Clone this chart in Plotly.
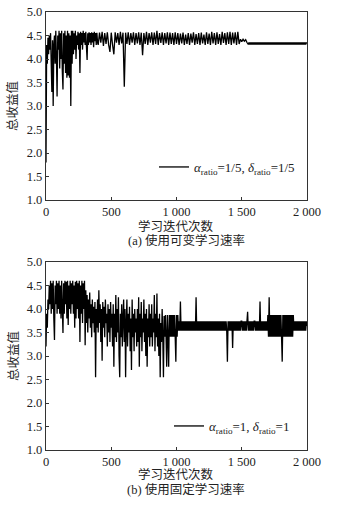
import plotly.graph_objects as go

# iteration index of each sampled value
iterations_a = list(range(0, 400, 5)) + list(range(400, 1550, 10)) + list(range(1550, 2001, 5))
iterations_b = list(range(0, 2001, 5))

# (a) variable learning rate: total return value
values_a = [
    # 0-395, every 5 iterations
    1.8, 4.3, 3.9, 4.45, 4.1, 4.5, 4.2, 4.55, 3.9, 3.3,
    4.4, 3.0, 4.3, 4.5, 3.9, 4.6, 4.0, 3.2, 4.5, 4.2,
    4.6, 3.8, 4.55, 4.0, 4.6, 3.75, 3.35, 4.55, 3.9, 4.6,
    3.7, 4.5, 3.6, 4.6, 3.65, 4.55, 3.6, 4.5, 3.0, 4.6,
    3.9, 4.6, 4.1, 4.55, 4.2, 4.6, 4.0, 4.5, 4.3, 4.58,
    4.2, 4.55, 3.7, 4.58, 4.3, 4.55, 4.2, 4.6, 4.35, 4.55,
    4.3, 4.58, 4.25, 3.98, 4.55, 4.3, 4.57, 4.35, 4.55, 4.3,
    4.57, 4.35, 4.55, 4.25, 4.58, 4.38, 4.55, 4.3, 4.56, 4.35,
    # 400-1540, every 10 iterations
    4.3, 4.56, 4.35, 4.58, 4.28, 4.55, 4.32, 4.57, 4.3, 4.15,
    4.56, 4.3, 4.1, 4.57, 4.35, 4.55, 4.3, 4.58, 4.33, 4.56,
    3.41, 4.56, 4.32, 4.57, 4.3, 4.55, 4.35, 4.57, 4.3, 4.55,
    4.33, 4.57, 4.3, 4.56, 4.08, 4.55, 4.32, 4.58, 4.3, 4.55,
    4.35, 4.57, 4.3, 4.56, 4.32, 4.6, 4.3, 4.55, 4.34, 4.57,
    4.3, 4.55, 4.33, 4.57, 4.3, 4.56, 4.32, 4.55, 4.3, 4.57,
    4.32, 4.55, 4.3, 4.54, 4.33, 4.56, 4.3, 4.52, 4.32, 4.55,
    4.3, 4.54, 4.35, 4.57, 4.3, 4.53, 4.32, 4.55, 4.3, 4.56,
    4.33, 4.52, 4.3, 4.57, 4.32, 4.54, 4.3, 4.58, 4.33, 4.55,
    4.3, 4.57, 4.32, 4.53, 4.3, 4.58, 4.34, 4.55, 4.3, 4.57,
    4.32, 4.58, 4.3, 4.56, 4.33, 4.57, 4.3, 4.58, 4.32, 4.42,
    4.37, 4.42, 4.38, 4.41, 4.35,
    # 1550-2000, every 5 iterations
    4.31, 4.35, 4.31, 4.35, 4.31, 4.35, 4.31, 4.35, 4.31, 4.35,
    4.31, 4.35, 4.31, 4.35, 4.31, 4.35, 4.31, 4.35, 4.31, 4.35,
    4.31, 4.35, 4.31, 4.35, 4.31, 4.35, 4.31, 4.35, 4.31, 4.35,
    4.31, 4.35, 4.31, 4.35, 4.31, 4.35, 4.31, 4.35, 4.31, 4.35,
    4.31, 4.35, 4.31, 4.35, 4.31, 4.35, 4.31, 4.35, 4.31, 4.35,
    4.31, 4.35, 4.31, 4.35, 4.31, 4.35, 4.31, 4.35, 4.31, 4.35,
    4.31, 4.35, 4.31, 4.35, 4.31, 4.35, 4.31, 4.35, 4.31, 4.35,
    4.31, 4.35, 4.31, 4.35, 4.31, 4.35, 4.31, 4.35, 4.31, 4.35,
    4.31, 4.35, 4.31, 4.35, 4.31, 4.35, 4.31, 4.35, 4.31, 4.35,
    4.33,
]

# (b) fixed learning rate: total return value (every 5 iterations)
values_b = [
    3.2, 3.9, 3.6, 4.2, 4.0, 4.5, 4.1, 4.6, 3.9, 4.55,
    4.0, 4.6, 3.8, 3.34, 4.5, 4.1, 4.6, 3.9, 4.55, 4.0,
    4.6, 3.9, 4.5, 3.8, 4.6, 4.0, 3.49, 4.55, 3.9, 4.6,
    4.1, 4.58, 3.8, 4.6, 3.66, 4.5, 4.0, 4.6, 3.9, 4.55,
    4.1, 4.6, 3.9, 4.5, 3.6, 4.58, 3.8, 4.6, 4.0, 4.55,
    3.8, 4.6, 3.3, 4.5, 3.9, 4.6, 3.7, 4.55, 4.0, 4.6,
    3.23, 4.4, 3.7, 4.3, 3.5, 4.2, 3.8, 4.35, 3.6, 4.1,
    3.4, 4.2, 3.7, 4.05, 3.5, 4.15, 2.55, 4.0, 3.6, 4.2,
    3.5, 4.4, 3.7, 4.1, 3.3, 4.0, 2.9, 4.15, 3.6, 4.05,
    3.4, 4.2, 3.7, 3.9, 3.2, 4.1, 3.5, 4.0, 3.3, 4.15,
    3.6, 3.9, 3.2, 4.1, 2.77, 3.9, 3.4, 4.3, 3.3, 4.0,
    3.5, 4.25, 3.0, 2.55, 3.9, 3.4, 4.1, 3.2, 3.8, 4.2,
    3.3, 4.0, 2.55, 3.7, 4.2, 3.2, 3.9, 3.5, 4.05, 3.1,
    3.8, 2.7, 4.2, 3.4, 3.9, 3.1, 4.0, 3.5, 3.8, 3.2,
    4.0, 3.3, 4.25, 2.77, 3.9, 3.4, 4.15, 3.1, 3.8, 3.5,
    4.2, 3.3, 3.9, 3.0, 4.0, 2.77, 3.8, 3.4, 4.1, 3.2,
    3.9, 3.4, 4.1, 3.2, 3.8, 3.5, 4.3, 3.1, 3.9, 3.4,
    4.33, 3.2, 3.8, 3.0, 3.9, 2.55, 3.7, 3.3, 4.0, 3.4,
    2.55, 3.85, 3.41, 3.87, 3.41, 2.77, 3.87, 3.41, 2.77, 3.87,
    3.41, 3.87, 3.41, 3.87, 3.41, 3.87, 3.41, 3.87, 3.41, 2.88,
    3.87, 3.41, 3.87, 3.54, 3.74, 3.54, 4.16, 3.54, 3.74, 3.54,
    3.74, 3.54, 3.74, 3.54, 3.74, 3.54, 3.74, 3.54, 3.74, 3.54,
    3.74, 3.54, 3.74, 3.54, 3.74, 3.54, 3.74, 3.54, 3.74, 3.54,
    4.25, 3.54, 3.74, 3.54, 3.74, 3.54, 3.74, 3.54, 3.74, 3.54,
    3.74, 3.54, 3.74, 3.54, 3.74, 3.54, 3.74, 3.54, 3.74, 3.54,
    3.74, 3.54, 3.74, 3.54, 3.74, 3.54, 3.74, 3.54, 3.74, 3.54,
    3.74, 3.54, 3.74, 3.54, 3.74, 3.54, 3.74, 3.54, 3.74, 3.54,
    3.74, 3.54, 3.74, 3.54, 3.74, 3.54, 3.74, 3.54, 2.88, 3.74,
    3.54, 3.74, 3.54, 3.74, 3.54, 3.74, 3.17, 3.74, 3.54, 3.74,
    3.54, 3.74, 3.54, 3.74, 3.54, 3.74, 3.54, 3.74, 3.54, 3.74,
    3.74, 3.54, 3.74, 3.54, 3.74, 3.54, 3.74, 3.54, 3.74, 3.94,
    3.54, 3.74, 3.54, 3.74, 3.54, 3.74, 3.54, 3.74, 3.54, 3.74,
    3.74, 3.54, 3.74, 3.54, 3.74, 3.54, 3.74, 3.54, 4.16, 3.54,
    3.74, 3.54, 3.74, 3.54, 3.74, 3.54, 3.74, 3.54, 3.74, 3.54,
    3.87, 3.41, 4.25, 3.41, 3.87, 3.41, 3.87, 3.41, 3.87, 3.41,
    3.87, 3.41, 3.87, 3.41, 3.87, 3.41, 3.87, 3.41, 3.87, 3.41,
    3.87, 3.41, 2.88, 3.87, 3.41, 3.87, 3.41, 3.87, 3.41, 3.87,
    3.41, 3.87, 3.41, 3.87, 3.41, 3.87, 3.41, 3.87, 3.41, 3.87,
    3.54, 3.74, 3.54, 3.74, 3.54, 3.74, 3.54, 3.74, 3.54, 3.74,
    3.54, 3.74, 3.54, 3.74, 3.54, 3.74, 3.54, 3.74, 3.54, 3.74,
    3.64,
]

x_tick_vals = [0, 500, 1000, 1500, 2000]
x_tick_text = ["0", "500", "1 000", "1 500", "2 000"]
y_tick_vals = [1.0, 1.5, 2.0, 2.5, 3.0, 3.5, 4.0, 4.5, 5.0]

x_title = "学习迭代次数"
y_title = "总收益值"
caption_a = "(a) 使用可变学习速率"
caption_b = "(b) 使用固定学习速率"
legend_a = "<i>α</i><sub>ratio</sub>=1/5, <i>δ</i><sub>ratio</sub>=1/5"
legend_b = "<i>α</i><sub>ratio</sub>=1, <i>δ</i><sub>ratio</sub>=1"

W, H = 342, 507
SERIF = "Liberation Serif, Noto Sans CJK SC, serif"
CJK = "Liberation Serif, Noto Sans CJK SC"

def px_x(p):
    return p / W

def px_y(p):
    return 1 - p / H

fig = go.Figure()
fig.add_trace(go.Scatter(x=iterations_a, y=values_a, mode="lines",
                         line=dict(color="black", width=1.3, simplify=False),
                         name=legend_a, xaxis="x", yaxis="y", legend="legend"))
fig.add_trace(go.Scatter(x=iterations_b, y=values_b, mode="lines",
                         line=dict(color="black", width=1.3, simplify=False),
                         name=legend_b, xaxis="x2", yaxis="y2", legend="legend2"))

axis_common = dict(showline=True, linecolor="#333", linewidth=1.3, mirror=True,
                   showgrid=False, zeroline=False, ticks="inside", ticklen=3,
                   tickcolor="#333", automargin=False,
                   tickfont=dict(family=SERIF, size=12.5, color="#222"))

xdom = [px_x(46), px_x(307)]
fig.update_layout(
    width=W, height=H, margin=dict(l=0, r=0, t=0, b=0, autoexpand=False),
    paper_bgcolor="white", plot_bgcolor="white",
    xaxis=dict(domain=xdom, range=[0, 2000], tickvals=x_tick_vals, ticktext=x_tick_text,
               anchor="y", **axis_common),
    yaxis=dict(domain=[px_y(200), px_y(12)], range=[1, 5], tickvals=y_tick_vals,
               tickformat=".1f", anchor="x", **axis_common),
    xaxis2=dict(domain=xdom, range=[0, 2000], tickvals=x_tick_vals, ticktext=x_tick_text,
                anchor="y2", **axis_common),
    yaxis2=dict(domain=[px_y(450), px_y(262)], range=[1, 5], tickvals=y_tick_vals,
                tickformat=".1f", anchor="x2", **axis_common),
    legend=dict(x=px_x(154), y=px_y(167), xanchor="left", yanchor="middle",
                bgcolor="rgba(0,0,0,0)", font=dict(family=SERIF, size=13, color="#222")),
    legend2=dict(x=px_x(169), y=px_y(426), xanchor="left", yanchor="middle",
                 bgcolor="rgba(0,0,0,0)", font=dict(family=SERIF, size=13, color="#222")),
    showlegend=True,
)

annos = []
for ycenter_title, ycenter_ylab, ycap, cap in [(226, 106, 240, caption_a), (474, 356, 489, caption_b)]:
    annos.append(dict(text=x_title, x=px_x(176), y=px_y(ycenter_title), xref="paper", yref="paper",
                      xanchor="center", yanchor="middle", showarrow=False,
                      font=dict(family=CJK, size=12.5, color="#222")))
    annos.append(dict(text=y_title, x=px_x(13), y=px_y(ycenter_ylab), xref="paper", yref="paper",
                      xanchor="center", yanchor="middle", textangle=-90, showarrow=False,
                      font=dict(family=CJK, size=12.5, color="#222")))
    annos.append(dict(text=cap, x=px_x(186), y=px_y(ycap), xref="paper", yref="paper",
                      xanchor="center", yanchor="middle", showarrow=False,
                      font=dict(family=CJK, size=12.5, color="#222")))
fig.update_layout(annotations=annos)

fig.write_html("out.html", config={"displayModeBar": False},
               post_script="document.body.style.margin='0';")
